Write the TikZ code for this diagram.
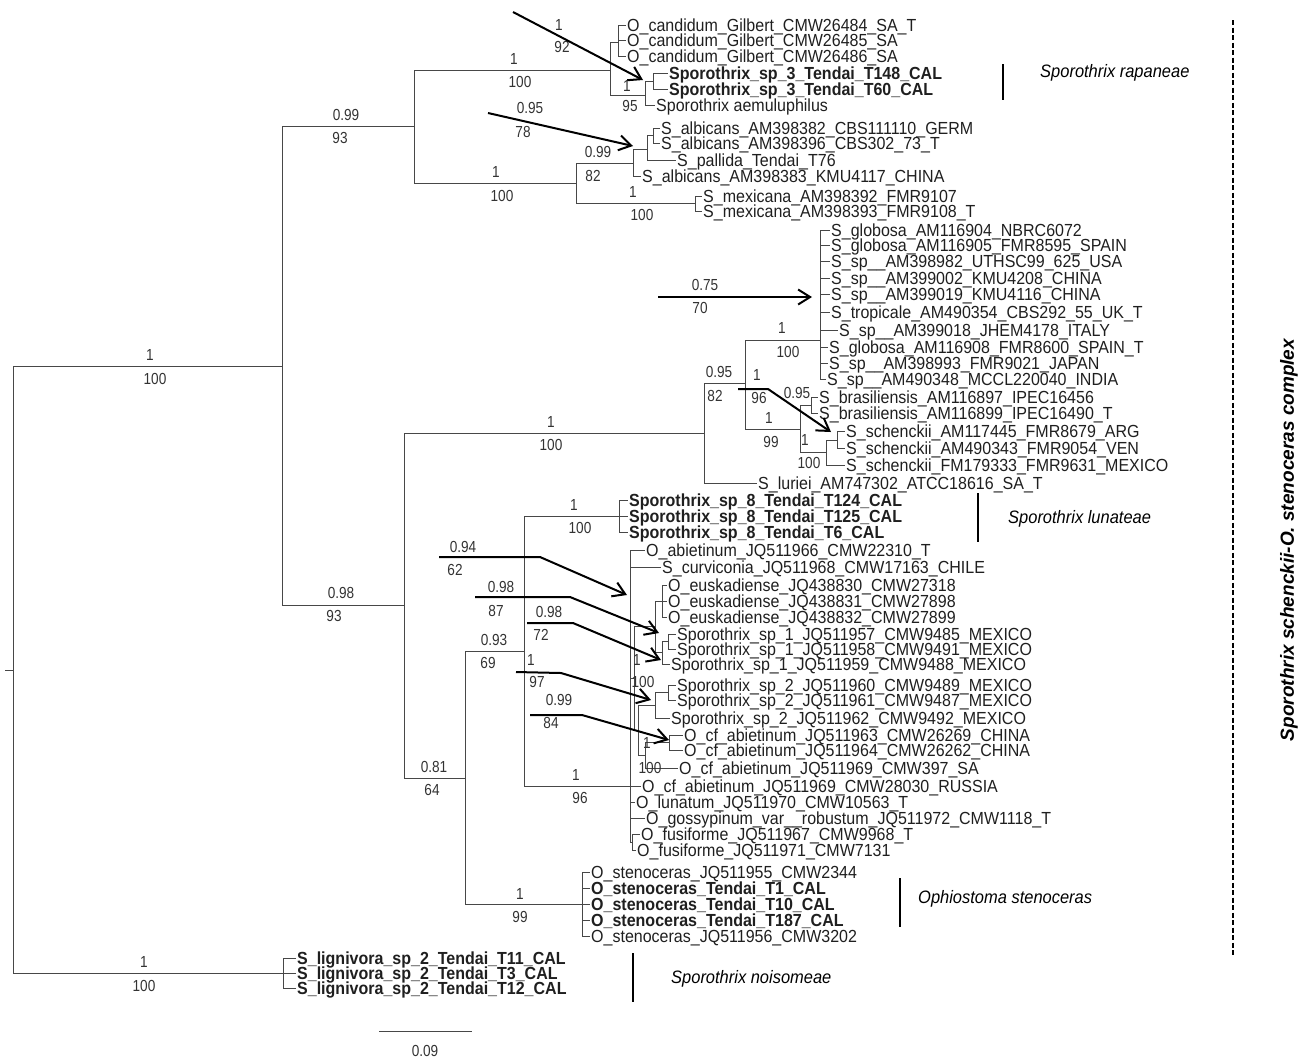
\documentclass[tikz,border=0pt]{standalone}
\usepackage{fontspec}
\setmainfont{Liberation Sans}
\newfontfamily\tipfam[FakeStretch=0.915]{Liberation Sans}
\newfontfamily\suppfam[FakeStretch=0.85]{Liberation Sans}
\usetikzlibrary{arrows.meta,positioning}

\begin{document}
\begin{tikzpicture}[
    x=1pt, y=-1pt,
    tip/.style={anchor=west, inner sep=1pt, text height=12.6pt, text depth=0pt, text=black!88, font=\tipfam\fontsize{17.5}{17.5}\selectfont},
    tipb/.style={tip, font=\tipfam\fontsize{17.5}{17.5}\selectfont\bfseries},
    supp/.style={inner sep=0pt, text height=11.4pt, text depth=0pt, text=black!80, font=\suppfam\fontsize{16}{16}\selectfont},
    branch/.style={draw=black!72, line width=0.9pt},
    pointer/.style={-{Straight Barb[length=12pt,width=15pt]}, line width=2pt},
    cladebar/.style={line width=2.6pt},
    cladename/.style={anchor=west, inner sep=0pt, text height=13pt, text depth=0pt, font=\tipfam\fontsize{18}{18}\selectfont\itshape}
]
    \useasboundingbox (0,0) rectangle (1308,1061);

    % Tips: rapaneae and albicans part
    \node[tip] (cand1) at (626,25) {O\_candidum\_Gilbert\_CMW26484\_SA\_T};
    \node[tip] (cand2) at (626,40) {O\_candidum\_Gilbert\_CMW26485\_SA};
    \node[tip] (cand3) at (626,56) {O\_candidum\_Gilbert\_CMW26486\_SA};
    \node[tipb] (rap1) at (668,73) {Sporothrix\_sp\_3\_Tendai\_T148\_CAL};
    \node[tipb] (rap2) at (668,89) {Sporothrix\_sp\_3\_Tendai\_T60\_CAL};
    \node[tip] (aemu) at (655,105) {Sporothrix aemuluphilus};
    \node[tip] (alb1) at (660,128) {S\_albicans\_AM398382\_CBS111110\_GERM};
    \node[tip] (alb2) at (660,143) {S\_albicans\_AM398396\_CBS302\_73\_T};
    \node[tip] (pall) at (676,160) {S\_pallida\_Tendai\_T76};
    \node[tip] (alb3) at (641,176) {S\_albicans\_AM398383\_KMU4117\_CHINA};
    \node[tip] (mex1) at (702,196) {S\_mexicana\_AM398392\_FMR9107};
    \node[tip] (mex2) at (702,211) {S\_mexicana\_AM398393\_FMR9108\_T};

    % Tips: globosa, brasiliensis, schenckii
    \node[tip] (glo1) at (830,230) {S\_globosa\_AM116904\_NBRC6072};
    \node[tip] (glo2) at (830,245) {S\_globosa\_AM116905\_FMR8595\_SPAIN};
    \node[tip] (gsp1) at (830,261) {S\_sp\_\_AM398982\_UTHSC99\_625\_USA};
    \node[tip] (gsp2) at (830,278) {S\_sp\_\_AM399002\_KMU4208\_CHINA};
    \node[tip] (gsp3) at (830,294) {S\_sp\_\_AM399019\_KMU4116\_CHINA};
    \node[tip] (trop) at (830,312) {S\_tropicale\_AM490354\_CBS292\_55\_UK\_T};
    \node[tip] (gsp4) at (838,330) {S\_sp\_\_AM399018\_JHEM4178\_ITALY};
    \node[tip] (glo3) at (828,347) {S\_globosa\_AM116908\_FMR8600\_SPAIN\_T};
    \node[tip] (gsp5) at (828,363) {S\_sp\_\_AM398993\_FMR9021\_JAPAN};
    \node[tip] (gsp6) at (826,379) {S\_sp\_\_AM490348\_MCCL220040\_INDIA};
    \node[tip] (bra1) at (818,397) {S\_brasiliensis\_AM116897\_IPEC16456};
    \node[tip] (bra2) at (818,413) {S\_brasiliensis\_AM116899\_IPEC16490\_T};
    \node[tip] (sch1) at (845,431) {S\_schenckii\_AM117445\_FMR8679\_ARG};
    \node[tip] (sch2) at (845,448) {S\_schenckii\_AM490343\_FMR9054\_VEN};
    \node[tip] (sch3) at (845,465) {S\_schenckii\_FM179333\_FMR9631\_MEXICO};
    \node[tip] (lur) at (757,483) {S\_luriei\_AM747302\_ATCC18616\_SA\_T};

    % Tips: lunateae and abietinum part
    \node[tipb] (lun1) at (628,500) {Sporothrix\_sp\_8\_Tendai\_T124\_CAL};
    \node[tipb] (lun2) at (628,516) {Sporothrix\_sp\_8\_Tendai\_T125\_CAL};
    \node[tipb] (lun3) at (628,532) {Sporothrix\_sp\_8\_Tendai\_T6\_CAL};
    \node[tip] (abi) at (645,550) {O\_abietinum\_JQ511966\_CMW22310\_T};
    \node[tip] (curv) at (661,567) {S\_curviconia\_JQ511968\_CMW17163\_CHILE};
    \node[tip] (eus1) at (667,585) {O\_euskadiense\_JQ438830\_CMW27318};
    \node[tip] (eus2) at (667,601) {O\_euskadiense\_JQ438831\_CMW27898};
    \node[tip] (eus3) at (667,617) {O\_euskadiense\_JQ438832\_CMW27899};
    \node[tip] (spa1) at (676,634) {Sporothrix\_sp\_1\_JQ511957\_CMW9485\_MEXICO};
    \node[tip] (spa2) at (676,649) {Sporothrix\_sp\_1\_JQ511958\_CMW9491\_MEXICO};
    \node[tip] (spa3) at (670,664) {Sporothrix\_sp\_1\_JQ511959\_CMW9488\_MEXICO};
    \node[tip] (spb1) at (676,685) {Sporothrix\_sp\_2\_JQ511960\_CMW9489\_MEXICO};
    \node[tip] (spb2) at (676,700) {Sporothrix\_sp\_2\_JQ511961\_CMW9487\_MEXICO};
    \node[tip] (spb3) at (670,718) {Sporothrix\_sp\_2\_JQ511962\_CMW9492\_MEXICO};
    \node[tip] (cfa1) at (683,735) {O\_cf\_abietinum\_JQ511963\_CMW26269\_CHINA};
    \node[tip] (cfa2) at (683,750) {O\_cf\_abietinum\_JQ511964\_CMW26262\_CHINA};
    \node[tip] (cfa3) at (678,768) {O\_cf\_abietinum\_JQ511969\_CMW397\_SA};
    \node[tip] (cfa4) at (641,786) {O\_cf\_abietinum\_JQ511969\_CMW28030\_RUSSIA};
    \node[tip] (luna) at (635,802) {O\_lunatum\_JQ511970\_CMW10563\_T};
    \node[tip] (goss) at (645,818) {O\_gossypinum\_var\_\_robustum\_JQ511972\_CMW1118\_T};
    \node[tip] (fus1) at (640,834) {O\_fusiforme\_JQ511967\_CMW9968\_T};
    \node[tip] (fus2) at (636,850) {O\_fusiforme\_JQ511971\_CMW7131};

    % Tips: stenoceras and lignivora
    \node[tip] (ste1) at (590,872) {O\_stenoceras\_JQ511955\_CMW2344};
    \node[tipb] (ste2) at (590,888) {O\_stenoceras\_Tendai\_T1\_CAL};
    \node[tipb] (ste3) at (590,904) {O\_stenoceras\_Tendai\_T10\_CAL};
    \node[tipb] (ste4) at (590,920) {O\_stenoceras\_Tendai\_T187\_CAL};
    \node[tip] (ste5) at (590,936) {O\_stenoceras\_JQ511956\_CMW3202};
    \node[tipb] (lig1) at (296,958) {S\_lignivora\_sp\_2\_Tendai\_T11\_CAL};
    \node[tipb] (lig2) at (296,973) {S\_lignivora\_sp\_2\_Tendai\_T3\_CAL};
    \node[tipb] (lig3) at (296,988) {S\_lignivora\_sp\_2\_Tendai\_T12\_CAL};

    % Internal nodes
    \coordinate (stub) at (5,670);
    \coordinate (root) at (13,670);
    \coordinate (nA) at (282,366);
    \coordinate (nB) at (414,126);
    \coordinate (nC) at (610,70);
    \coordinate (nCand) at (618,42);
    \coordinate (nI) at (645,95);
    \coordinate (nJ) at (653,81);
    \coordinate (nD) at (576,183);
    \coordinate (nE) at (633,163);
    \coordinate (nG) at (647,149);
    \coordinate (nH) at (653,135);
    \coordinate (nF) at (695,203);
    \coordinate (nP) at (404,605);
    \coordinate (nN) at (704,433);
    \coordinate (nM) at (745,383);
    \coordinate (nK) at (820,340);
    \coordinate (nO) at (800,429);
    \coordinate (nBr) at (811,405);
    \coordinate (nQ) at (826,452);
    \coordinate (nR) at (837,440);
    \coordinate (nS) at (465,778);
    \coordinate (nT) at (524,651);
    \coordinate (n8) at (619,516);
    \coordinate (nU) at (630,786);
    \coordinate (nW) at (634,678);
    \coordinate (nX) at (655,626);
    \coordinate (nEus) at (662,601);
    \coordinate (nSp1) at (662,652);
    \coordinate (nSp1a) at (668,641);
    \coordinate (nY) at (638,730);
    \coordinate (nSp2) at (655,705);
    \coordinate (nSp2a) at (668,692);
    \coordinate (nCf) at (645,755);
    \coordinate (nCfa) at (669,742);
    \coordinate (nFus) at (632,842);
    \coordinate (nSt) at (582,904);
    \coordinate (nL) at (283,973);

    % Branches
    \draw[branch] (stub) -- (root);
    \draw[branch] (root) |- (nA) (root) |- (nL);
    \draw[branch] (nA) |- (nB) (nA) |- (nP);
    \draw[branch] (nB) |- (nC) (nB) |- (nD);
    \draw[branch] (nC) |- (nCand) (nC) |- (nI);
    \draw[branch] (nCand) |- (cand1.west) (nCand) |- (cand2.west) (nCand) |- (cand3.west);
    \draw[branch] (nI) |- (nJ) (nI) |- (aemu.west);
    \draw[branch] (nJ) |- (rap1.west) (nJ) |- (rap2.west);
    \draw[branch] (nD) |- (nE) (nD) |- (nF);
    \draw[branch] (nE) |- (nG) (nE) |- (alb3.west);
    \draw[branch] (nG) |- (nH) (nG) |- (pall.west);
    \draw[branch] (nH) |- (alb1.west) (nH) |- (alb2.west);
    \draw[branch] (nF) |- (mex1.west) (nF) |- (mex2.west);
    \draw[branch] (nP) |- (nN) (nP) |- (nS);
    \draw[branch] (nN) |- (nM) (nN) |- (lur.west);
    \draw[branch] (nM) |- (nK) (nM) |- (nO);
    \draw[branch] (nK) |- (glo1.west) (nK) |- (glo2.west) (nK) |- (gsp1.west) (nK) |- (gsp2.west)
        (nK) |- (gsp3.west) (nK) |- (trop.west) (nK) |- (gsp4.west) (nK) |- (glo3.west)
        (nK) |- (gsp5.west) (nK) |- (gsp6.west);
    \draw[branch] (nO) |- (nBr) (nO) |- (nQ);
    \draw[branch] (nBr) |- (bra1.west) (nBr) |- (bra2.west);
    \draw[branch] (nQ) |- (nR) (nQ) |- (sch3.west);
    \draw[branch] (nR) |- (sch1.west) (nR) |- (sch2.west);
    \draw[branch] (nS) |- (nT) (nS) |- (nSt);
    \draw[branch] (nT) |- (n8) (nT) |- (nU);
    \draw[branch] (n8) |- (lun1.west) (n8) |- (lun2.west) (n8) |- (lun3.west);
    \draw[branch] (nU) |- (abi.west) (nU) |- (curv.west) (nU) |- (nW) (nU) |- (cfa4.west)
        (nU) |- (luna.west) (nU) |- (goss.west) (nU) |- (nFus);
    \draw[branch] (nW) |- (nX) (nW) |- (nY);
    \draw[branch] (nX) |- (nEus) (nX) |- (nSp1);
    \draw[branch] (nEus) |- (eus1.west) (nEus) |- (eus2.west) (nEus) |- (eus3.west);
    \draw[branch] (nSp1) |- (nSp1a) (nSp1) |- (spa3.west);
    \draw[branch] (nSp1a) |- (spa1.west) (nSp1a) |- (spa2.west);
    \draw[branch] (nY) |- (nSp2) (nY) |- (nCf);
    \draw[branch] (nSp2) |- (nSp2a) (nSp2) |- (spb3.west);
    \draw[branch] (nSp2a) |- (spb1.west) (nSp2a) |- (spb2.west);
    \draw[branch] (nCf) |- (nCfa) (nCf) |- (cfa3.west);
    \draw[branch] (nCfa) |- (cfa1.west) (nCfa) |- (cfa2.west);
    \draw[branch] (nFus) |- (fus1.west) (nFus) |- (fus2.west);
    \draw[branch] (nSt) |- (ste1.west) (nSt) |- (ste2.west) (nSt) |- (ste3.west)
        (nSt) |- (ste4.west) (nSt) |- (ste5.west);
    \draw[branch] (nL) |- (lig1.west) (nL) |- (lig2.west) (nL) |- (lig3.west);

    % Support values (posterior / bootstrap)
    \node[supp] (sRt1) at (150,355) {1};
    \node[supp] (sRt2) at (155,379) {100};
    \node[supp] (sRb1) at (144,962) {1};
    \node[supp] (sRb2) at (144,986) {100};
    \node[supp] (sAt1) at (346,115) {0.99};
    \node[supp] (sAt2) at (340,138) {93};
    \node[supp] (sAb1) at (341,593) {0.98};
    \node[supp] (sAb2) at (334,616) {93};
    \node[supp] (sBt1) at (514,59) {1};
    \node[supp] (sBt2) at (520,82) {100};
    \node[supp] (sBb1) at (496,172) {1};
    \node[supp] (sBb2) at (502,196) {100};
    \node[supp] (sI1) at (627,86) {1};
    \node[supp] (sI2) at (630,106) {95};
    \node[supp] (sDt1) at (598,152) {0.99};
    \node[supp] (sDt2) at (593,176) {82};
    \node[supp] (sDb1) at (633,192) {1};
    \node[supp] (sDb2) at (642,215) {100};
    \node[supp] (sPt1) at (551,422) {1};
    \node[supp] (sPt2) at (551,445) {100};
    \node[supp] (sNt1) at (719,372) {0.95};
    \node[supp] (sNt2) at (715,396) {82};
    \node[supp] (sMt1) at (782,328) {1};
    \node[supp] (sMt2) at (788,352) {100};
    \node[supp] (sMb1) at (769,418) {1};
    \node[supp] (sMb2) at (771,442) {99};
    \node[supp] (sOt1) at (797,393) {0.95};
    \node[supp] (sOb1) at (805,440) {1};
    \node[supp] (sOb2) at (809,463) {100};
    \node[supp] (sTt1) at (574,505) {1};
    \node[supp] (sTt2) at (580,528) {100};
    \node[supp] (sTb1) at (576,775) {1};
    \node[supp] (sTb2) at (580,798) {96};
    \node[supp] (sPb1) at (434,767) {0.81};
    \node[supp] (sPb2) at (432,790) {64};
    \node[supp] (sSt1) at (494,640) {0.93};
    \node[supp] (sSt2) at (488,663) {69};
    \node[supp] (sSb1) at (520,894) {1};
    \node[supp] (sSb2) at (520,917) {99};
    \node[supp] (sW1) at (637,660) {1};
    \node[supp] (sW2) at (643,682) {100};
    \node[supp] (sCf1) at (647,743) {1};
    \node[supp] (sCf2) at (650,768) {100};

    % Pointers with their values
    \node[supp] (a1u) at (559,25) {1};
    \node[supp] (a1d) at (562,47) {92};
    \node[supp] (a2u) at (530,108) {0.95};
    \node[supp] (a2d) at (523,132) {78};
    \node[supp] (a3u) at (705,285) {0.75};
    \node[supp] (a3d) at (700,308) {70};
    \node[supp] (a4u) at (757,375) {1};
    \node[supp] (a4d) at (759,398) {96};
    \node[supp] (a5u) at (463,547) {0.94};
    \node[supp] (a5d) at (455,570) {62};
    \node[supp] (a6u) at (501,587) {0.98};
    \node[supp] (a6d) at (496,611) {87};
    \node[supp] (a7u) at (549,612) {0.98};
    \node[supp] (a7d) at (541,635) {72};
    \node[supp] (a8u) at (531,660) {1};
    \node[supp] (a8d) at (537,682) {97};
    \node[supp] (a9u) at (559,700) {0.99};
    \node[supp] (a9d) at (551,723) {84};

    \coordinate (p1s) at (513,12);  \coordinate (p1e) at (643,80);
    \coordinate (p2s) at (488,113); \coordinate (p2e) at (633,146);
    \coordinate (p3s) at (658,297); \coordinate (p3e) at (812,297);
    \coordinate (p4s) at (738,389); \coordinate (p4b) at (768,389); \coordinate (p4e) at (831,432);
    \coordinate (p5s) at (439,557); \coordinate (p5b) at (540,557); \coordinate (p5e) at (627,595);
    \coordinate (p6s) at (475,597); \coordinate (p6b) at (570,597); \coordinate (p6e) at (659,633);
    \coordinate (p7s) at (527,623); \coordinate (p7b) at (573,623); \coordinate (p7e) at (661,660);
    \coordinate (p8s) at (516,672); \coordinate (p8b) at (561,673); \coordinate (p8e) at (651,700);
    \coordinate (p9s) at (530,715); \coordinate (p9b) at (582,715); \coordinate (p9e) at (669,740);

    \draw[pointer] (p1s) -- (p1e);
    \draw[pointer] (p2s) -- (p2e);
    \draw[pointer] (p3s) -- (p3e);
    \draw[pointer] (p4s) -- (p4b) -- (p4e);
    \draw[pointer] (p5s) -- (p5b) -- (p5e);
    \draw[pointer] (p6s) -- (p6b) -- (p6e);
    \draw[pointer] (p7s) -- (p7b) -- (p7e);
    \draw[pointer] (p8s) -- (p8b) -- (p8e);
    \draw[pointer] (p9s) -- (p9b) -- (p9e);

    % Clade bars and names
    \coordinate (rapT) at (1003,64);  \coordinate (rapB) at (1003,100);
    \coordinate (lunT) at (978,493);  \coordinate (lunB) at (978,542);
    \coordinate (steT) at (900,878);  \coordinate (steB) at (900,927);
    \coordinate (noiT) at (633,953);  \coordinate (noiB) at (633,1002);
    \draw[cladebar] (rapT) -- (rapB);
    \draw[cladebar] (lunT) -- (lunB);
    \draw[cladebar] (steT) -- (steB);
    \draw[cladebar] (noiT) -- (noiB);
    \node[cladename] (rapName) at (1040,71) {Sporothrix rapaneae};
    \node[cladename] (lunName) at (1008,517) {Sporothrix lunateae};
    \node[cladename] (steName) at (918,897) {Ophiostoma stenoceras};
    \node[cladename] (noiName) at (671,977) {Sporothrix noisomeae};

    % Complex bracket
    \coordinate (cxT) at (1233,20); \coordinate (cxB) at (1233,955);
    \draw[line width=2.6pt, dash pattern=on 5pt off 2.5pt] (cxT) -- (cxB);
    \node[rotate=90, inner sep=0pt, font=\fontsize{19}{19}\selectfont\bfseries\itshape] (cxName) at (1289,540) {Sporothrix schenckii-O. stenoceras complex};

    % Scale bar
    \coordinate (sbL) at (379,1031); \coordinate (sbR) at (472,1031);
    \draw[branch] (sbL) -- (sbR);
    \node[supp] (sbLab) at (425,1051) {0.09};
\end{tikzpicture}
\end{document}
